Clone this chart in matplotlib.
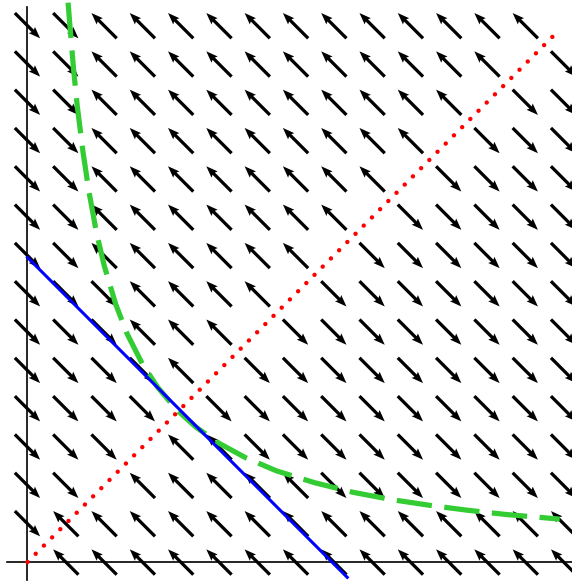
import matplotlib
matplotlib.use("Agg")
import matplotlib.pyplot as plt

# grid of arrow positions (data units)
grid_x = list(range(15))
grid_y = list(range(15))

# arrow direction, top row (y=14) first
# R = pointing down-right, L = pointing up-left, . = no arrow
directions = [
    "RRLLLLLLLLLLLL.",   # y=14
    "RRLLLLLLLLLLL.R",   # y=13
    "RRLLLLLLLLLL.RR",   # y=12
    "RRLLLLLLLLL.RRR",   # y=11
    "RRLLLLLLLL.RRRR",   # y=10
    "RRLLLLLLL.RRRRR",   # y=9
    "RRLLLLLL.RRRRRR",   # y=8
    "RRRLLLL.RRRRRRR",   # y=7
    "RRRLLL.RRRRRRRR",   # y=6
    "RRRRL.RRRRRRRRR",   # y=5
    "RRRR.RRRRRRRRRR",   # y=4
    "RRR.LLRRRRRRRRR",   # y=3
    "RR.LLLLLRRRRRRR",   # y=2
    "RLLLLLLLLLLLLLL",   # y=1
    ".LLLLLLLLLLLLLL",   # y=0
]

# blue straight line (end points)
blue_x = [0.0, 8.35]
blue_y = [7.95, -0.40]

# red dotted diagonal
red_x = [0.0, 13.75]
red_y = [0.0, 13.75]

# green dashed curve
green_x = [1.06, 1.1, 1.2, 1.3, 1.45, 1.6, 1.8, 2.0, 2.3, 2.6, 3.0, 3.4, 3.9,
           4.4, 5.0, 5.7, 6.5, 7.5, 8.5, 9.5, 10.5, 11.5, 12.5, 13.9]
green_y = [14.6, 14.1, 12.9, 11.9, 10.7, 9.7, 8.6, 7.75, 6.74, 5.96, 5.17, 4.56,
           3.97, 3.52, 3.1, 2.72, 2.38, 2.07, 1.82, 1.63, 1.48, 1.35, 1.24, 1.12]

fig = plt.figure(figsize=(5.72, 5.82), dpi=100)
ax = fig.add_axes([0, 0, 1, 1])
ax.set_xlim(-0.718, 14.22)
ax.set_ylim(-0.522, 14.67)
ax.axis("off")

# axes lines
ax.plot([0, 0], [-0.47, 14.49], color="black", lw=1.2, zorder=1)
ax.plot([-0.53, 14.3], [0, 0], color="black", lw=1.2, zorder=1)

# direction field
px, py, pu, pv = [], [], [], []
L = 0.66
for row, yv in zip(directions, grid_y[::-1]):
    for ch, xv in zip(row, grid_x):
        if ch == ".":
            continue
        s = 1 if ch == "R" else -1
        px.append(xv)
        py.append(yv)
        pu.append(s * L)
        pv.append(-s * L)

ax.quiver(px, py, pu, pv, pivot="middle", units="xy", angles="xy",
          scale_units="xy", scale=1, width=0.085, headwidth=2.7,
          headlength=3.6, headaxislength=3.2, color="black", zorder=2)

ax.plot(green_x, green_y, color="#33cc33", lw=3.75, ls=(0, (6.8, 2.4)),
        dash_capstyle="butt", zorder=3)
ax.plot(blue_x, blue_y, color="#0000ff", lw=2.2, zorder=4)
ax.plot(red_x, red_y, color="#ff0000", lw=3.2, ls=(0, (0.01, 2.6)),
        dash_capstyle="round", zorder=5)

plt.savefig("out.png", dpi=100)
plt.close()
